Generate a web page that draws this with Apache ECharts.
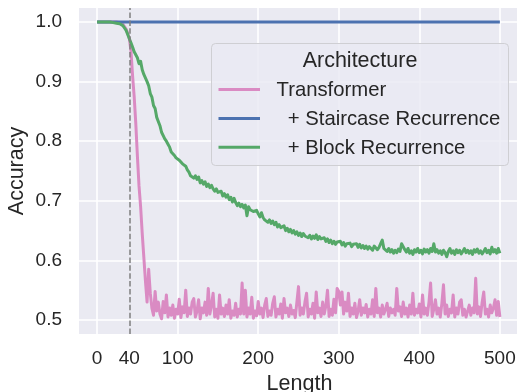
<!DOCTYPE html>
<html>
<head>
<meta charset="utf-8">
<script src="https://cdn.jsdelivr.net/npm/echarts@6/dist/echarts.min.js"></script>
<style>
html,body{margin:0;padding:0;background:#fff;}
#c{width:517px;height:392px;}
</style>
</head>
<body>
<div id="c"></div>
<script>
// ---- data ----
const seriesNames = ['Transformer', '  + Staircase Recurrence', '  + Block Recurrence'];
const lengths = [
0,2,4,6,8,10,12,14,16,18,
20,22,24,26,28,30,32,34,36,38,
40,42,44,46,48,50,52,54,56,58,
60,62,64,66,68,70,72,74,76,78,
80,82,84,86,88,90,92,94,96,98,
100,102,104,106,108,110,112,114,116,118,
120,122,124,126,128,130,132,134,136,138,
140,142,144,146,148,150,152,154,156,158,
160,162,164,166,168,170,172,174,176,178,
180,182,184,186,188,190,192,194,196,198,
200,202,204,206,208,210,212,214,216,218,
220,222,224,226,228,230,232,234,236,238,
240,242,244,246,248,250,252,254,256,258,
260,262,264,266,268,270,272,274,276,278,
280,282,284,286,288,290,292,294,296,298,
300,302,304,306,308,310,312,314,316,318,
320,322,324,326,328,330,332,334,336,338,
340,342,344,346,348,350,352,354,356,358,
360,362,364,366,368,370,372,374,376,378,
380,382,384,386,388,390,392,394,396,398,
400,402,404,406,408,410,412,414,416,418,
420,422,424,426,428,430,432,434,436,438,
440,442,444,446,448,450,452,454,456,458,
460,462,464,466,468,470,472,474,476,478,
480,482,484,486,488,490,492,494,496,498,
500];
const transformerAcc = [
1,1,1,1,1,1,1,1,1,1,
1,1,1,1,0.999,0.998,0.996,0.993,0.988,0.981,
0.972,0.952,0.91,0.875,0.83,0.775,0.725,0.69,0.645,0.605,
0.565,0.53,0.585,0.545,0.52,0.508,0.548,0.515,0.53,0.51,
0.502,0.531,0.512,0.542,0.505,0.52,0.508,0.525,0.503,0.518,
0.51,0.535,0.504,0.522,0.512,0.55,0.506,0.52,0.51,0.53,
0.536,0.505,0.515,0.534,0.502,0.52,0.512,0.53,0.508,0.553,
0.51,0.525,0.545,0.505,0.518,0.503,0.542,0.51,0.52,0.506,
0.525,0.51,0.534,0.503,0.515,0.508,0.528,0.505,0.518,0.51,
0.562,0.51,0.55,0.505,0.52,0.51,0.538,0.503,0.515,0.507,
0.531,0.51,0.52,0.504,0.525,0.536,0.506,0.515,0.508,0.528,
0.539,0.505,0.518,0.51,0.527,0.503,0.536,0.512,0.52,0.506,
0.525,0.51,0.516,0.504,0.53,0.556,0.508,0.52,0.51,0.53,
0.545,0.505,0.518,0.51,0.528,0.503,0.547,0.512,0.52,0.506,
0.53,0.51,0.524,0.55,0.506,0.518,0.508,0.535,0.512,0.553,
0.548,0.525,0.547,0.51,0.53,0.515,0.545,0.506,0.52,0.51,
0.528,0.504,0.515,0.534,0.508,0.52,0.512,0.526,0.505,0.518,
0.51,0.534,0.506,0.553,0.512,0.52,0.505,0.525,0.51,0.518,
0.528,0.506,0.52,0.512,0.518,0.508,0.553,0.515,0.522,0.506,
0.53,0.51,0.52,0.505,0.525,0.51,0.545,0.508,0.518,0.512,
0.527,0.505,0.542,0.51,0.52,0.508,0.53,0.562,0.506,0.518,
0.534,0.51,0.52,0.505,0.528,0.559,0.51,0.525,0.506,0.518,
0.512,0.542,0.505,0.52,0.51,0.53,0.534,0.508,0.518,0.505,
0.515,0.525,0.508,0.52,0.512,0.57,0.51,0.522,0.506,0.53,
0.547,0.51,0.518,0.505,0.525,0.512,0.52,0.534,0.508,0.531,
0.505];
const staircaseLengths = [0, 100, 200, 300, 400, 500];
const staircaseAcc = [1, 1, 1, 1, 1, 1];
const blockAcc = [
1,1,1,1,1,1,1,1,1,0.999,
0.999,0.999,0.998,0.998,0.997,0.996,0.994,0.99,0.986,0.979,
0.972,0.965,0.958,0.95,0.948,0.94,0.93,0.934,0.92,0.912,
0.912,0.9,0.893,0.88,0.874,0.86,0.855,0.84,0.838,0.826,
0.815,0.812,0.804,0.8,0.795,0.79,0.782,0.784,0.776,0.772,
0.774,0.768,0.77,0.762,0.765,0.758,0.752,0.748,0.742,0.745,
0.738,0.742,0.736,0.74,0.73,0.734,0.728,0.732,0.724,0.728,
0.722,0.726,0.72,0.716,0.72,0.714,0.712,0.716,0.708,0.712,
0.706,0.71,0.702,0.706,0.698,0.704,0.697,0.692,0.696,0.69,
0.694,0.688,0.693,0.675,0.69,0.685,0.688,0.682,0.68,0.684,
0.678,0.673,0.68,0.672,0.668,0.67,0.664,0.668,0.662,0.666,
0.66,0.664,0.656,0.66,0.655,0.652,0.658,0.65,0.654,0.648,
0.652,0.646,0.65,0.644,0.648,0.642,0.646,0.64,0.645,0.641,
0.644,0.638,0.642,0.636,0.641,0.637,0.643,0.635,0.64,0.636,
0.634,0.638,0.632,0.636,0.63,0.634,0.628,0.632,0.627,0.631,
0.628,0.632,0.626,0.63,0.624,0.628,0.625,0.629,0.623,0.627,
0.624,0.628,0.622,0.627,0.621,0.625,0.62,0.624,0.619,0.623,
0.62,0.617,0.624,0.621,0.618,0.622,0.628,0.634,0.62,0.617,
0.615,0.62,0.614,0.618,0.612,0.617,0.613,0.619,0.615,0.628,
0.63,0.618,0.614,0.62,0.612,0.616,0.61,0.618,0.614,0.62,
0.613,0.617,0.611,0.619,0.614,0.618,0.612,0.62,0.615,0.628,
0.614,0.618,0.612,0.616,0.61,0.617,0.613,0.606,0.615,0.62,
0.612,0.616,0.61,0.618,0.613,0.617,0.611,0.615,0.62,0.613,
0.617,0.612,0.616,0.61,0.618,0.614,0.619,0.612,0.616,0.611,
0.615,0.62,0.613,0.617,0.611,0.622,0.614,0.618,0.612,0.62,
0.612];
const xTickValues = [0, 100, 200, 300, 400, 500];
const xLabelValues = [0, 40, 100, 200, 300, 400, 500];
const yTickValues = [0.5, 0.6, 0.7, 0.8, 0.9, 1.0];
const trainLength = 40;
const legendTitle = 'Architecture';

// ---- style ----
const colors = ['#da8bc3', '#4c72b0', '#55a868'];
const FONT = "'Liberation Sans', Arial, Helvetica, sans-serif";
const TXT = '#262626';
const LW = 3;

const chart = echarts.init(document.getElementById('c'), null, {renderer: 'canvas'});
const pairs = (xs, ys) => xs.map((x, i) => [x, ys[i]]);

const gridL = 79, gridT = 8, gridW = 441, gridH = 326;

const legendItems = seriesNames.map((n, i) => ({ name: n, color: colors[i] }));
const legendGraphics = [
  { type: 'rect', shape: { x: 211.5, y: 43.5, width: 297, height: 122, r: 4 },
    style: { fill: 'rgba(234,234,242,0.8)', stroke: '#cfcfd3', lineWidth: 1 }, z: 100 },
  { type: 'text', x: 360, y: 61, style: { text: legendTitle, font: '21.5px ' + FONT, fill: TXT,
    textAlign: 'center', textVerticalAlign: 'middle' }, z: 101 }
];
legendItems.forEach((it, i) => {
  const y = 89.5 + i * 28.9;
  legendGraphics.push({ type: 'line', shape: { x1: 218.5, y1: y, x2: 260, y2: y },
    style: { stroke: it.color, lineWidth: LW }, z: 101 });
  legendGraphics.push({ type: 'text', x: 276.5, y: y + 0.8, style: { text: it.name, font: '20.3px ' + FONT,
    fill: TXT, textAlign: 'left', textVerticalAlign: 'middle' }, z: 101 });
});

const option = {
  animation: false,
  backgroundColor: '#ffffff',
  grid: { left: gridL, top: gridT, width: gridW, height: gridH, show: true,
          backgroundColor: '#eaeaf2', borderWidth: 0, containLabel: false, outerBoundsMode: 'none' },
  xAxis: {
    type: 'value', min: -22.5, max: 525,
    name: 'Length', nameLocation: 'middle', nameGap: 39, nameMoveOverlap: false,
    nameTextStyle: { fontFamily: FONT, fontSize: 21.5, color: TXT },
    axisLine: { show: false },
    axisTick: { show: false, customValues: xTickValues },
    axisLabel: { customValues: xLabelValues, fontFamily: FONT, fontSize: 19, color: TXT, margin: 15 },
    splitLine: { show: true, lineStyle: { color: '#ffffff', width: 1.6 } }
  },
  yAxis: {
    type: 'value', min: 0.4765, max: 1.0235,
    name: 'Accuracy', nameLocation: 'middle', nameGap: 51, nameMoveOverlap: false,
    nameTextStyle: { fontFamily: FONT, fontSize: 21.5, color: TXT },
    axisLine: { show: false },
    axisTick: { show: false, customValues: yTickValues },
    axisLabel: { customValues: yTickValues, fontFamily: FONT, fontSize: 19, color: TXT, margin: 17,
                 formatter: v => Number(v).toFixed(1) },
    splitLine: { show: true, lineStyle: { color: '#ffffff', width: 1.6 } }
  },
  series: [
    { name: seriesNames[0], type: 'line', data: pairs(lengths, transformerAcc), showSymbol: false,
      lineStyle: { color: colors[0], width: LW, join: 'round' }, itemStyle: { color: colors[0] }, z: 2 },
    { name: seriesNames[1], type: 'line', data: pairs(staircaseLengths, staircaseAcc), showSymbol: false,
      lineStyle: { color: colors[1], width: LW }, itemStyle: { color: colors[1] }, z: 3 },
    { name: seriesNames[2], type: 'line', data: pairs(lengths, blockAcc), showSymbol: false,
      lineStyle: { color: colors[2], width: LW, join: 'round' }, itemStyle: { color: colors[2] }, z: 4,
      markLine: { silent: true, symbol: ['none', 'none'], label: { show: false }, animation: false,
        lineStyle: { color: '#7f7f7f', type: [5.5, 2.4], width: 1.5 },
        data: [{ xAxis: trainLength }] } }
  ],
  graphic: legendGraphics
};
chart.setOption(option);
</script>
</body>
</html>
